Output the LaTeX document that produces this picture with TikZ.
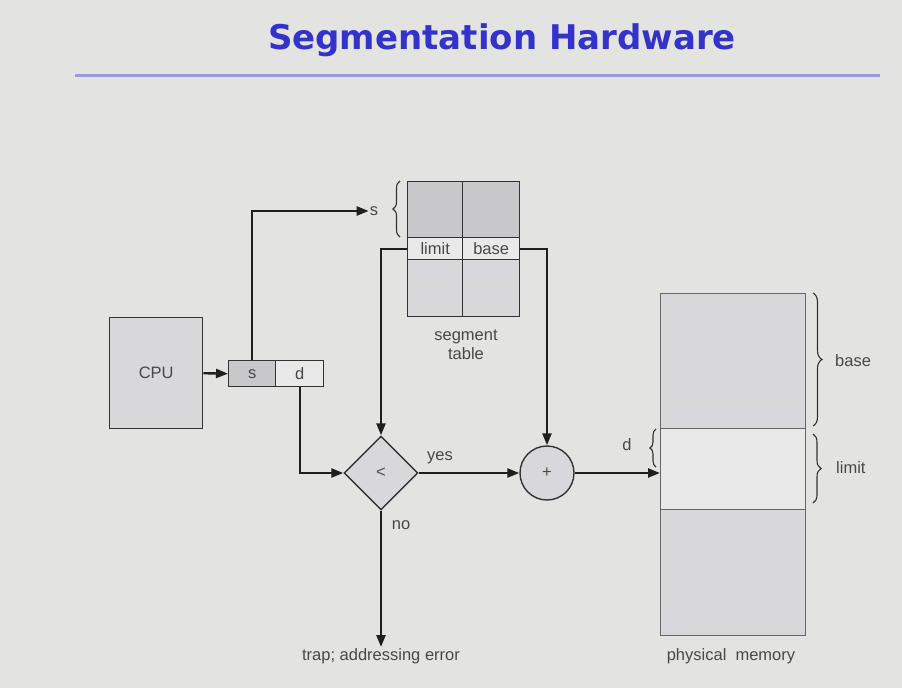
\documentclass[tikz,border=0pt]{standalone}
\usepackage{fontspec}
\setmainfont{Liberation Sans}
\newfontfamily\titlefont{DejaVu Sans}
\usetikzlibrary{arrows.meta,shapes.geometric,decorations.pathreplacing}
\definecolor{bg}{RGB}{227,227,225}
\definecolor{ttl}{RGB}{51,51,204}
\definecolor{rule}{RGB}{154,154,222}
\definecolor{cdark}{RGB}{200,199,204}
\definecolor{cmid}{RGB}{216,216,220}
\definecolor{clight}{RGB}{233,233,233}
\definecolor{tx}{RGB}{72,72,72}
\begin{document}
\begin{tikzpicture}[x=1pt,y=-1pt,
  box/.style={draw=black!80, line width=1.4pt, inner sep=0pt, anchor=north west},
  wire/.style={line width=2.4pt, draw=black!88},
  arr/.style={wire, -{Triangle[length=12pt,width=9pt]}},
  lbl/.style={text=tx, font=\fontsize{16.5}{19}\selectfont, inner sep=1pt},
  brc/.style={draw=black!80, line width=1.1pt, decorate, decoration={brace, amplitude=7pt}}]
\fill[bg] (0,0) rectangle (902,688);
\useasboundingbox (0,0) rectangle (902,688);
% title
\node[text=ttl, font=\titlefont\bfseries\fontsize{34}{38}\selectfont] (title) at (502,40) {Segmentation Hardware};
\draw[rule, line width=3pt] (75,75) -- (880,75);
% CPU
\node[box, fill=cmid, minimum width=93pt, minimum height=111pt] (cpu) at (109,317) {};
\node[lbl] (cputxt) at (cpu.center) {CPU};
% s d register
\node[box, fill=cdark, minimum width=47pt, minimum height=26pt] (scell) at (228,360) {};
\node[box, fill=clight, minimum width=48pt, minimum height=26pt] (dcell) at (275,360) {};
\node[lbl] at (scell.center) {s};
\node[lbl] at (dcell.center) {d};
% segment table
\node[box, fill=cdark, minimum width=55pt, minimum height=56pt] (tl) at (407,181) {};
\node[box, fill=cdark, minimum width=57pt, minimum height=56pt] (tr) at (462,181) {};
\node[box, fill=clight, minimum width=55pt, minimum height=22pt] (lim) at (407,237) {};
\node[box, fill=clight, minimum width=57pt, minimum height=22pt] (bas) at (462,237) {};
\node[box, fill=cmid, minimum width=55pt, minimum height=57pt] (bl) at (407,259) {};
\node[box, fill=cmid, minimum width=57pt, minimum height=57pt] (br) at (462,259) {};
\node[lbl] at (lim.center) {limit};
\node[lbl] at (bas.center) {base};
\node[lbl, align=center] (segtab) at (466,345) {segment\\table};
\draw[brc] (400,237) -- (400,181);
\node[lbl] (slab) at (374,211) {s};
% comparator and adder
\node[draw=black!80, line width=1.4pt, fill=cmid, diamond, aspect=1, minimum width=74pt, minimum height=74pt, inner sep=0pt] (cmp) at (381,473) {};
\node[lbl] at (cmp.center) {<};
\node[draw=black!80, line width=1.4pt, fill=cmid, circle, minimum size=54pt, inner sep=0pt] (add) at (547,473) {};
\node[lbl] at (add.center) {+};
% physical memory
\node[box, fill=cmid, draw=black!60, line width=1.1pt, minimum width=145pt, minimum height=135pt] (m1) at (660,293) {};
\node[box, fill=clight, draw=black!60, line width=1.1pt, minimum width=145pt, minimum height=81pt] (m2) at (660,428) {};
\node[box, fill=cmid, draw=black!60, line width=1.1pt, minimum width=145pt, minimum height=126pt] (m3) at (660,509) {};
\draw[brc, decoration={brace, amplitude=9pt}] (813,293) -- (813,426);
\node[lbl, anchor=west] (baselab) at (834,361) {base};
\draw[brc, decoration={brace, amplitude=8pt}] (813,434) -- (813,503);
\node[lbl, anchor=west] (limlab) at (835,468) {limit};
\draw[brc, decoration={brace, amplitude=6pt}] (656,467) -- (656,429);
\node[lbl] (dlab) at (627,445) {d};
\node[lbl] (pm) at (731,656) {physical\ \ memory};
% labels
\node[lbl] (yes) at (440,458) {yes};
\node[lbl] (no) at (401,525) {no};
\node[lbl, anchor=north] (trap) at (381,647) {trap; addressing error};
% connectors
\draw[arr] (cpu.east) -- (scell.west);
\draw[arr] (scell.north) |- (slab.west);
\draw[arr] (dcell.south) |- (cmp.west);
\draw[arr] (lim.west) -| (cmp.north);
\draw[arr] (bas.east) -| (add.north);
\draw[arr] (cmp.east) -- (add.west);
\draw[arr] (add.east) -- (add.east -| m2.west);
\draw[arr] (cmp.south) -- (cmp.south |- trap.north);
\end{tikzpicture}
\end{document}
